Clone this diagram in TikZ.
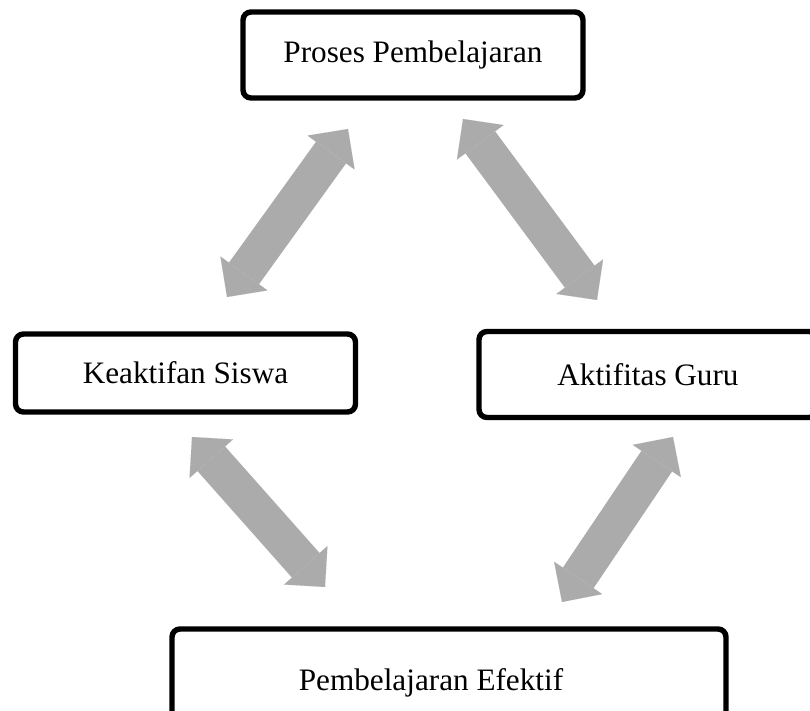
\documentclass[tikz,border=0pt]{standalone}
\usepackage{fontspec}
\setmainfont{Liberation Serif}
\usetikzlibrary{arrows.meta}
\definecolor{arrowgray}{RGB}{171,171,171}

\begin{document}
\begin{tikzpicture}[
        x=0.5pt, y=-0.5pt,
        box/.style={draw, line width=2.7pt, rounded corners=4pt, inner sep=0pt,
            font=\fontsize{15.6}{18}\selectfont},
        link/.style={draw=arrowgray, line width=18.5pt, {Triangle[width=29pt, length=14.5pt, line width=0.01pt]}-{Triangle[width=29pt, length=14.5pt, line width=0.01pt]}}
    ]
    \useasboundingbox (0,0) rectangle (810,711);
    \clip (0,0) rectangle (810,711);

    % Nodes
    \node[box, minimum width=170pt, minimum height=43pt] (proses) at (413,55) {Proses Pembelajaran};
    \node[box, minimum width=170pt, minimum height=39pt] (siswa) at (185.5,373) {Keaktifan Siswa};
    \node[box, minimum width=169pt, minimum height=43pt] (guru) at (648,374.5) {Aktifitas Guru};
    \node[box, minimum width=277pt, minimum height=54pt,
        label={[xshift=-9pt, font=\fontsize{15.6}{18}\selectfont]center:Pembelajaran Efektif}] (efektif) at (449,683) {};

    % Edges
    \coordinate (a1) at (227,297);
    \coordinate (a2) at (348,129);
    \coordinate (b1) at (463,119);
    \coordinate (b2) at (597,300);
    \coordinate (c1) at (192,437);
    \coordinate (c2) at (325,587);
    \coordinate (d1) at (673,437);
    \coordinate (d2) at (562,602);
    \draw[link] (a1) -- (a2);
    \draw[link] (b1) -- (b2);
    \draw[link] (c1) -- (c2);
    \draw[link] (d1) -- (d2);

\end{tikzpicture}
\end{document}
